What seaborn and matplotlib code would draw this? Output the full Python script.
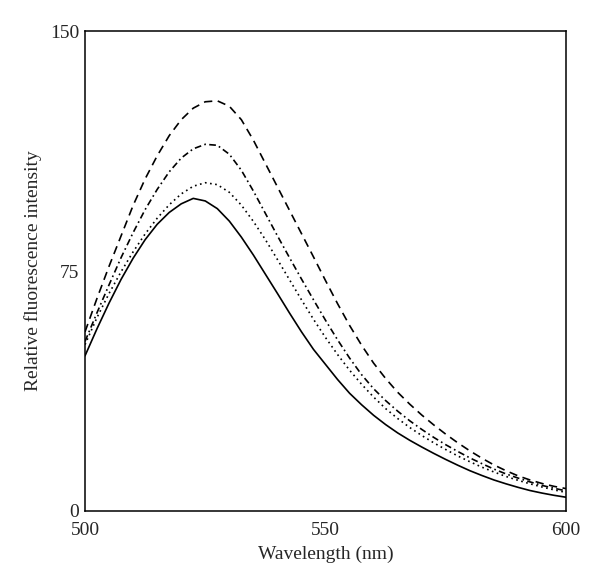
import matplotlib
matplotlib.use("Agg")
import matplotlib.pyplot as plt
import numpy as np
import pandas as pd
import seaborn as sns
from matplotlib.ticker import AutoMinorLocator

# wavelength grid (nm), every 2.5 nm
wavelength = [500, 502.5, 505, 507.5, 510, 512.5, 515, 517.5, 520, 522.5,
              525, 527.5, 530, 532.5, 535, 537.5, 540, 542.5, 545, 547.5,
              550, 552.5, 555, 557.5, 560, 562.5, 565, 567.5, 570, 572.5,
              575, 577.5, 580, 582.5, 585, 587.5, 590, 592.5, 595, 597.5, 600]

# relative fluorescence intensity
solid = [48.5, 57.0, 65.0, 72.4, 79.0, 84.8, 89.6, 93.3, 96.0, 97.7,
         96.9, 94.5, 90.6, 85.6, 80.0, 74.0, 68.0, 61.9, 56.0, 50.5,
         45.8, 41.1, 36.8, 33.2, 29.9, 27.0, 24.4, 22.1, 20.0, 18.0,
         16.1, 14.3, 12.6, 11.1, 9.7, 8.5, 7.4, 6.4, 5.6, 4.9, 4.3]
dotted = [52.0, 60.5, 68.0, 74.8, 81.0, 86.6, 91.5, 95.7, 99.1, 101.5,
          102.6, 102.0, 99.6, 95.6, 90.5, 84.8, 78.6, 72.3, 66.0, 59.9,
          54.2, 48.9, 44.0, 39.6, 35.6, 32.0, 28.9, 26.1, 23.6, 21.3,
          19.2, 17.2, 15.4, 13.7, 12.2, 10.8, 9.6, 8.5, 7.5, 6.6, 5.8]
dashdot = [53.0, 62.0, 70.7, 79.2, 87.0, 94.2, 100.5, 106.0, 110.3, 113.2,
           114.6, 114.3, 111.5, 106.5, 100.0, 93.0, 86.0, 79.2, 72.5, 66.0,
           59.6, 53.5, 47.8, 42.6, 38.2, 34.5, 31.2, 28.2, 25.5, 23.0,
           20.7, 18.6, 16.6, 14.8, 13.1, 11.6, 10.3, 9.1, 8.0, 7.1, 6.3]
dashed = [56.0, 66.5, 76.5, 86.0, 95.5, 103.8, 111.0, 117.3, 122.3, 125.9,
          127.9, 128.2, 126.5, 122.3, 115.9, 108.6, 101.3, 94.0, 86.7, 79.4,
          72.0, 64.8, 58.0, 51.8, 46.2, 41.4, 37.1, 33.4, 30.0, 26.9,
          24.0, 21.3, 18.8, 16.5, 14.4, 12.6, 11.0, 9.7, 8.6, 7.7, 7.0]

series = {"a": solid, "b": dotted, "c": dashdot, "d": dashed}

df = pd.concat(
    [pd.DataFrame({"wavelength": wavelength, "intensity": v, "sample": k}) for k, v in series.items()],
    ignore_index=True,
)

sns.set_style("white")
plt.rcParams["font.family"] = ["Liberation Serif", "DejaVu Serif"]

fig = plt.figure(figsize=(6, 5.86), dpi=100)
ax = fig.add_axes([0.1417, 0.128, 0.8017, 0.819])

dashes = {"a": "", "b": (1, 2.1), "c": (4, 2, 1, 2), "d": (5, 3.3)}
sns.lineplot(data=df, x="wavelength", y="intensity", hue="sample", style="sample",
             palette=["black"] * 4, dashes=dashes, linewidth=1.2, legend=False, ax=ax)

ax.set_xlim(500, 600)
ax.set_ylim(0, 150)
ax.set_xticks([500, 550, 600])
ax.set_yticks([0, 75, 150])
ax.xaxis.set_minor_locator(AutoMinorLocator(2))
ax.yaxis.set_minor_locator(AutoMinorLocator(2))
ax.tick_params(which="major", direction="in", length=5, width=1, labelsize=14)
ax.tick_params(which="minor", direction="in", length=3.5, width=1)
ax.tick_params(axis="x", pad=8)
ax.tick_params(axis="y", pad=4)

for s in ax.spines.values():
    s.set_linewidth(1.1)
    s.set_color("black")

ax.set_xlabel("Wavelength (nm)", fontsize=14, labelpad=5)
ax.set_ylabel("Relative fluorescence intensity", fontsize=14, labelpad=6)

fig.savefig("out.png", dpi=100)
